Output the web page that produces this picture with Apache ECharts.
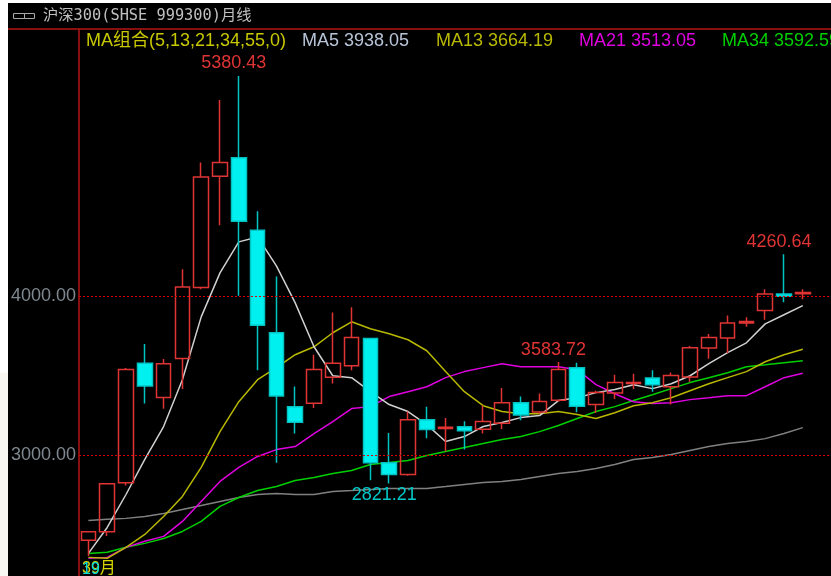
<!DOCTYPE html>
<html lang="zh">

<head>
    <meta charset="UTF-8">
    <title>沪深300月线</title>
    <style>
        body {
            margin: 0px;
            padding: 0px;
            background: #ffffff;
        }

        #kline {
            width: 831px;
            height: 576px;
        }
    </style>
</head>

<body>
    <div id="kline"></div>
    <script src="https://cdn.jsdelivr.net/npm/echarts@6/dist/echarts.min.js"></script>
    <script>
        var months = ['2014-10', '2014-11', '2014-12', '2015-01', '2015-02', '2015-03', '2015-04', '2015-05', '2015-06', '2015-07',
            '2015-08', '2015-09', '2015-10', '2015-11', '2015-12', '2016-01', '2016-02', '2016-03', '2016-04', '2016-05',
            '2016-06', '2016-07', '2016-08', '2016-09', '2016-10', '2016-11', '2016-12', '2017-01', '2017-02', '2017-03',
            '2017-04', '2017-05', '2017-06', '2017-07', '2017-08', '2017-09', '2017-10', '2017-11', '2017-12', ''];

        var open = [2464, 2518, 2826, 3576, 3362, 3607, 4052, 4752, 4867, 4412, 3768, 3304, 3325, 3488, 3561, 3732, 2951, 2878, 3222, 3166,
            3177, 3162, 3199, 3329, 3271, 3344, 3549, 3317, 3390, 3450, 3484, 3429, 3490, 3672, 3735, 3829, 3908, 4011, 4013];
        var close = [2518, 2819, 3538, 3434, 3574, 4055, 4746, 4838, 4468, 3816, 3371, 3206, 3538, 3576, 3739, 2951, 2878, 3221, 3160, 3175,
            3152, 3210, 3329, 3252, 3337, 3538, 3306, 3392, 3456, 3456, 3442, 3500, 3674, 3739, 3829, 3839, 4011, 3998, 4021];
        var low = [2365, 2491, 2809, 3323, 3290, 3415, 4042, 4443, 4000, 3532, 2951, 3135, 3296, 3450, 3532, 2842, 2821.21, 2870, 3105, 3022,
            3034, 3135, 3164, 3218, 3259, 3335, 3268, 3264, 3352, 3415, 3398, 3317, 3461, 3605, 3641, 3806, 3850, 3960, 3979];
        var high = [2520, 2822, 3547, 3697, 3603, 4167, 4838, 5231, 5380.43, 4531, 4121, 3431, 3630, 3895, 3929, 3735, 3139, 3273, 3304, 3233,
            3212, 3310, 3421, 3367, 3386, 3583.72, 3580, 3404, 3505, 3511, 3532, 3519, 3685, 3760, 3876, 3866, 4042, 4260.64, 4042];

        var ma5 = [2382, 2545, 2752, 2972, 3179, 3473, 3868, 4144, 4339, 4370, 4188, 3956, 3680, 3498, 3486, 3398, 3317, 3273, 3191, 3085,
            3116, 3179, 3204, 3235, 3248, 3342, 3360, 3392, 3411, 3442, 3417, 3448, 3498, 3574, 3643, 3705, 3824, 3881, 3938.05];
        var ma13 = [2357, 2351, 2420, 2501, 2614, 2740, 2922, 3147, 3335, 3473, 3549, 3630, 3680, 3768, 3837, 3793, 3762, 3724, 3655, 3524,
            3398, 3310, 3273, 3260, 3260, 3273, 3254, 3229, 3266, 3310, 3329, 3360, 3404, 3448, 3486, 3524, 3586, 3630, 3664.19];
        var ma21 = [2351, 2357, 2420, 2458, 2489, 2583, 2708, 2834, 2922, 2991, 3034, 3053, 3135, 3210, 3292, 3304, 3367, 3398, 3429, 3486,
            3524, 3549, 3574, 3555, 3555, 3555, 3536, 3442, 3385, 3335, 3323, 3329, 3348, 3360, 3373, 3373, 3429, 3486, 3513.05];
        var ma34 = [2382, 2389, 2420, 2445, 2476, 2520, 2583, 2677, 2733, 2777, 2802, 2840, 2859, 2884, 2903, 2940, 2953, 2965, 2997, 3022,
            3047, 3072, 3097, 3116, 3147, 3185, 3229, 3273, 3304, 3342, 3379, 3417, 3455, 3486, 3517, 3555, 3567, 3580, 3592.59];
        var ma55 = [2589, 2596, 2602, 2614, 2633, 2658, 2683, 2708, 2733, 2752, 2759, 2752, 2752, 2771, 2777, 2784, 2790, 2790, 2790, 2802,
            2815, 2828, 2834, 2846, 2865, 2884, 2897, 2915, 2940, 2972, 2984, 3003, 3028, 3053, 3072, 3085, 3103, 3135, 3172];

        var yTicks = [3000, 4000];

        var RED = '#e03434';
        var CYAN = '#00f0f0';
        var FONT = '"Liberation Sans", Arial, "Noto Sans CJK SC", sans-serif';

        var candles = open.map(function (o, i) {
            return [o, close[i], low[i], high[i]];
        });

        function lineSeries(name, data, color) {
            return {
                name: name,
                type: 'line',
                data: data,
                z: 1,
                showSymbol: false,
                silent: true,
                lineStyle: { color: color, width: 1.5 }
            };
        }

        // 高低点标注，文字相对影线偏左一点
        function extreme(i, value, color, dy) {
            return {
                coord: [months[i], value],
                value: value.toFixed(2),
                symbolSize: 0,
                label: {
                    show: true,
                    position: 'inside',
                    offset: [-5, dy],
                    color: color,
                    fontSize: 18,
                    fontFamily: FONT,
                    formatter: value.toFixed(2)
                }
            };
        }

        function headText(x, text, color) {
            return {
                type: 'text',
                x: x,
                y: 32,
                z: 10,
                style: { text: text, fill: color, font: '18px ' + FONT }
            };
        }

        var dom = document.getElementById('kline');
        var myChart = echarts.init(dom);

        var baseLine = lineSeries('MA55', ma55, '#808080');
        // 3000、4000 两条红色点线
        baseLine.markLine = {
            silent: true,
            symbol: 'none',
            label: { show: false },
            lineStyle: { color: '#e00000', type: [2, 2], width: 1.2, opacity: 1 },
            data: yTicks.map(function (v) { return { yAxis: v }; })
        };

        var option = {
            animation: false,
            backgroundColor: '#000000',
            grid: { left: 79, right: 0, top: 30, height: 546 },
            xAxis: {
                type: 'category',
                data: months,
                axisLine: { show: false },
                axisTick: { show: false },
                axisLabel: { show: false },
                splitLine: { show: false }
            },
            yAxis: {
                type: 'value',
                min: 2240,
                max: 5670,
                axisLine: { show: true, lineStyle: { color: '#b81414', width: 1.5 } },
                axisTick: { show: false, customValues: yTicks },
                axisLabel: {
                    customValues: yTicks,
                    color: '#7f8890',
                    fontSize: 18,
                    fontFamily: FONT,
                    margin: 3,
                    formatter: function (v) { return v.toFixed(2); }
                },
                splitLine: { show: false }
            },
            series: [
                baseLine,
                lineSeries('MA34', ma34, '#00d000'),
                lineSeries('MA21', ma21, '#e000e0'),
                lineSeries('MA13', ma13, '#b8b800'),
                lineSeries('MA5', ma5, '#d0d0d0'),
                {
                    name: '沪深300',
                    type: 'candlestick',
                    data: candles,
                    z: 2,
                    barWidth: 15,
                    itemStyle: {
                        color: 'transparent',
                        color0: CYAN,
                        borderColor: RED,
                        borderColor0: '#00c4c4',
                        borderColorDoji: RED,
                        borderWidth: 1.5
                    },
                    markPoint: {
                        silent: true,
                        data: [
                            extreme(8, high[8], RED, -13),
                            extreme(37, high[37], RED, -12),
                            extreme(25, high[25], RED, -12),
                            extreme(16, low[16], '#00c8c8', 12)
                        ]
                    }
                }
            ],
            graphic: [
                { type: 'rect', z: 9, shape: { x: 0, y: 0, width: 831, height: 3 }, style: { fill: '#ffffff' } },
                { type: 'rect', z: 9, shape: { x: 0, y: 0, width: 8, height: 373 }, style: { fill: '#ffffff' } },
                { type: 'rect', z: 9, shape: { x: 0, y: 373, width: 8, height: 203 }, style: { fill: '#f9f7f2' } },
                { type: 'line', z: 9, shape: { x1: 8, y1: 29, x2: 831, y2: 29 }, style: { stroke: '#b81414', lineWidth: 1.5 } },
                { type: 'rect', z: 10, shape: { x: 13.5, y: 13.5, width: 11, height: 5 }, style: { fill: 'none', stroke: '#a8a8a8', lineWidth: 1 } },
                { type: 'rect', z: 10, shape: { x: 24.5, y: 13.5, width: 10, height: 5 }, style: { fill: 'none', stroke: '#a8a8a8', lineWidth: 1 } },
                {
                    type: 'text', x: 43, y: 8, z: 10,
                    style: { text: '沪深300(SHSE 999300)月线', fill: '#c0c0c0', font: '15.3px "DejaVu Sans Mono", "Noto Sans CJK SC", monospace' }
                },
                headText(86, 'MA组合(5,13,21,34,55,0)', '#c8c800'),
                headText(302, 'MA5 ' + ma5[38].toFixed(2), '#b8c4d8'),
                headText(436, 'MA13 ' + ma13[38].toFixed(2), '#b8b800'),
                headText(579, 'MA21 ' + ma21[38].toFixed(2), '#e000e0'),
                headText(722, 'MA34 ' + ma34[38].toFixed(2), '#00d000'),
                // 左下角重叠的日期文字
                {
                    type: 'text', x: 82, y: 561, z: 10,
                    style: { text: '39月', fill: '#d8d800', font: '16px ' + FONT }
                },
                {
                    type: 'text', x: 82, y: 562, z: 11,
                    style: { text: '19', fill: '#00d8d8', font: '16px ' + FONT }
                }
            ]
        };

        myChart.setOption(option);
    </script>
</body>

</html>
